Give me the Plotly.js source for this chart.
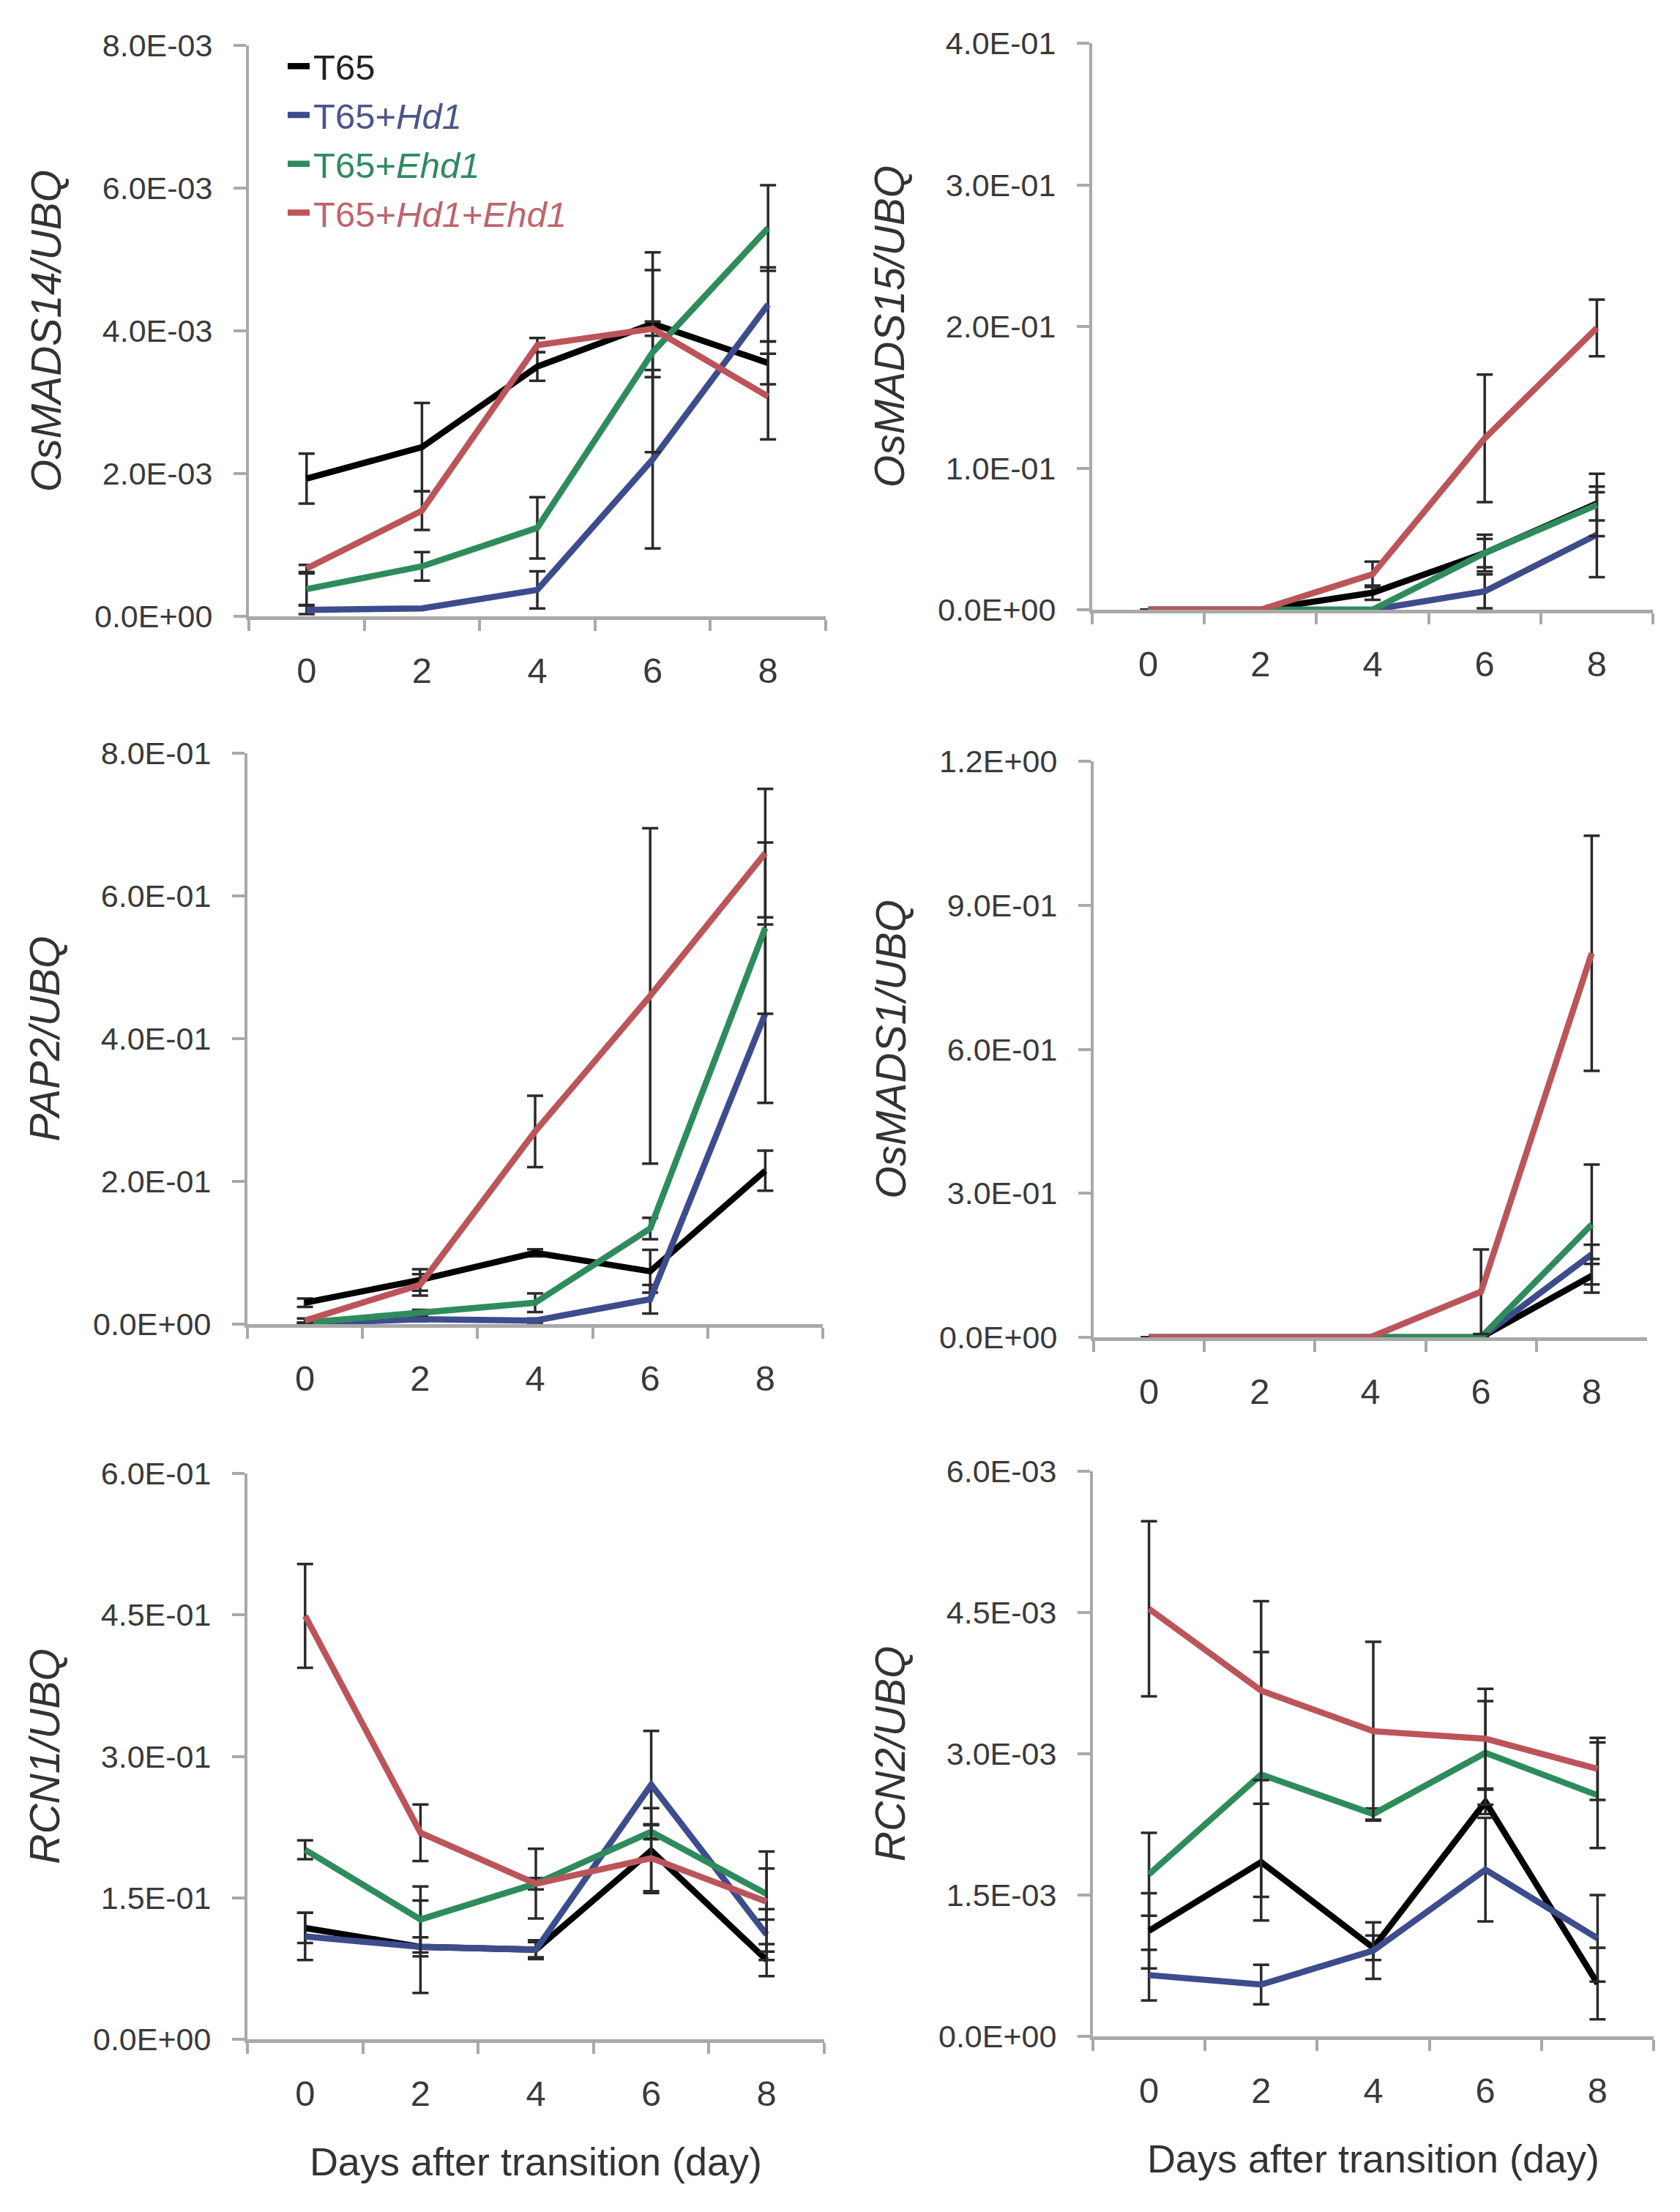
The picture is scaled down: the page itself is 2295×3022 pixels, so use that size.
<!DOCTYPE html>
<html>
<head>
<meta charset="utf-8">
<script src="https://cdn.plot.ly/plotly-3.0.1.min.js"></script>
<style>
  html, body { margin: 0; padding: 0; background: #ffffff; }
  #chart { width: 2295px; height: 3022px; }
</style>
</head>
<body>
<div id="chart"></div>
<script>
// ---------------- data ----------------
const days = ['0', '2', '4', '6', '8'];

const seriesNames = ['T65', 'T65+<i>Hd1</i>', 'T65+<i>Ehd1</i>', 'T65+<i>Hd1</i>+<i>Ehd1</i>'];

// OsMADS14/UBQ
const mads14_T65      = [0.00193, 0.00237, 0.00350, 0.00410, 0.00355];
const mads14_T65_err  = [0.00035, 0.00062, 0.00020, 0.00075, 0.00030];
const mads14_Hd1      = [0.00009, 0.00011, 0.00037, 0.00220, 0.00437];
const mads14_Hd1_err  = [0.00006, 0, 0.00026, 0.00125, 0.00052];
const mads14_Ehd1     = [0.00038, 0.00070, 0.00124, 0.00370, 0.00544];
const mads14_Ehd1_err = [0.00022, 0.00020, 0.00043, 0.00140, 0.00060];
const mads14_HE       = [0.00067, 0.00148, 0.00380, 0.00403, 0.00308];
const mads14_HE_err   = [0.00005, 0.00027, 0.00010, 0.00010, 0.00060];
const mads14Ticks     = [0, 0.002, 0.004, 0.006, 0.008];

// OsMADS15/UBQ
const mads15_T65      = [0, 0, 0.012, 0.040, 0.075];
const mads15_T65_err  = [0, 0, 0.005, 0.010, 0.012];
const mads15_Hd1      = [0, 0, 0, 0.013, 0.053];
const mads15_Hd1_err  = [0, 0, 0, 0.012, 0.030];
const mads15_Ehd1     = [0, 0, 0, 0.040, 0.074];
const mads15_Ehd1_err = [0, 0, 0, 0.013, 0.022];
const mads15_HE       = [0, 0, 0.025, 0.121, 0.199];
const mads15_HE_err   = [0, 0, 0.009, 0.045, 0.020];
const mads15Ticks     = [0, 0.1, 0.2, 0.3, 0.4];

// PAP2/UBQ
const pap2_T65      = [0.030, 0.062, 0.100, 0.074, 0.215];
const pap2_T65_err  = [0.006, 0.015, 0.005, 0.030, 0.028];
const pap2_Hd1      = [0.001, 0.007, 0.005, 0.035, 0.435];
const pap2_Hd1_err  = [0, 0.003, 0.003, 0.020, 0.125];
const pap2_Ehd1     = [0.002, 0.016, 0.030, 0.134, 0.555];
const pap2_Ehd1_err = [0, 0.004, 0.013, 0.015, 0.120];
const pap2_HE       = [0.005, 0.055, 0.270, 0.460, 0.660];
const pap2_HE_err   = [0.003, 0.015, 0.050, 0.235, 0.090];
const pap2Ticks     = [0, 0.2, 0.4, 0.6, 0.8];

// OsMADS1/UBQ
const mads1_T65      = [0, 0, 0, 0, 0.128];
const mads1_T65_err  = [0, 0, 0, 0, 0.035];
const mads1_Hd1      = [0, 0, 0, 0, 0.173];
const mads1_Hd1_err  = [0, 0, 0, 0, 0.020];
const mads1_Ehd1     = [0, 0, 0, 0, 0.235];
const mads1_Ehd1_err = [0, 0, 0, 0, 0.125];
const mads1_HE       = [0, 0, 0, 0.095, 0.800];
const mads1_HE_err   = [0, 0, 0, 0.088, 0.245];
const mads1Ticks     = [0, 0.3, 0.6, 0.9, 1.2];

// RCN1/UBQ
const rcn1_T65      = [0.118, 0.098, 0.095, 0.200, 0.084];
const rcn1_T65_err  = [0.016, 0.049, 0.010, 0.045, 0.017];
const rcn1_Hd1      = [0.109, 0.098, 0.095, 0.270, 0.111];
const rcn1_Hd1_err  = [0.025, 0.010, 0.008, 0.057, 0.027];
const rcn1_Ehd1     = [0.201, 0.127, 0.165, 0.220, 0.154];
const rcn1_Ehd1_err = [0.010, 0.035, 0.006, 0.008, 0.027];
const rcn1_HE       = [0.449, 0.219, 0.165, 0.192, 0.146];
const rcn1_HE_err   = [0.055, 0.030, 0.037, 0.035, 0.053];
const rcn1Ticks     = [0, 0.15, 0.3, 0.45, 0.6];

// RCN2/UBQ
const rcn2_T65      = [0.00112, 0.00185, 0.00094, 0.00249, 0.00056];
const rcn2_T65_err  = [0.00040, 0.00062, 0.00013, 0.00013, 0.00038];
const rcn2_Hd1      = [0.00065, 0.00055, 0.00091, 0.00177, 0.00104];
const rcn2_Hd1_err  = [0.00027, 0.00021, 0.00030, 0.00055, 0.00046];
const rcn2_Ehd1     = [0.00172, 0.00278, 0.00236, 0.00301, 0.00256];
const rcn2_Ehd1_err = [0.00044, 0.00130, 0.00006, 0.00055, 0.00056];
const rcn2_HE       = [0.00454, 0.00367, 0.00324, 0.00316, 0.00284];
const rcn2_HE_err   = [0.00093, 0.00095, 0.00095, 0.00053, 0.00033];
const rcn2Ticks     = [0, 0.0015, 0.003, 0.0045, 0.006];

const panels = [
  { title: 'OsMADS14/UBQ', vals: [mads14_T65, mads14_Hd1, mads14_Ehd1, mads14_HE], errs: [mads14_T65_err, mads14_Hd1_err, mads14_Ehd1_err, mads14_HE_err], ticks: mads14Ticks },
  { title: 'OsMADS15/UBQ', vals: [mads15_T65, mads15_Hd1, mads15_Ehd1, mads15_HE], errs: [mads15_T65_err, mads15_Hd1_err, mads15_Ehd1_err, mads15_HE_err], ticks: mads15Ticks },
  { title: 'PAP2/UBQ', vals: [pap2_T65, pap2_Hd1, pap2_Ehd1, pap2_HE], errs: [pap2_T65_err, pap2_Hd1_err, pap2_Ehd1_err, pap2_HE_err], ticks: pap2Ticks },
  { title: 'OsMADS1/UBQ', vals: [mads1_T65, mads1_Hd1, mads1_Ehd1, mads1_HE], errs: [mads1_T65_err, mads1_Hd1_err, mads1_Ehd1_err, mads1_HE_err], ticks: mads1Ticks },
  { title: 'RCN1/UBQ', vals: [rcn1_T65, rcn1_Hd1, rcn1_Ehd1, rcn1_HE], errs: [rcn1_T65_err, rcn1_Hd1_err, rcn1_Ehd1_err, rcn1_HE_err], ticks: rcn1Ticks },
  { title: 'RCN2/UBQ', vals: [rcn2_T65, rcn2_Hd1, rcn2_Ehd1, rcn2_HE], errs: [rcn2_T65_err, rcn2_Hd1_err, rcn2_Ehd1_err, rcn2_HE_err], ticks: rcn2Ticks }
];

// ---------------- style ----------------
const W = 2295, H = 3022;
const colors = ['#000000', '#3d4c8c', '#2e8c5c', '#bb555a'];
const legendColors = ['#222222', '#4b5688', '#2f8a60', '#c0646c'];
const axisColor = '#a9a9a9';
const FONT = 'Liberation Sans, Arial, Helvetica, sans-serif';

// plot boxes in pixels: [left, right, top, bottom]
const boxes = [
  [340, 1128, 62, 842],
  [1492, 2258, 59, 833],
  [338, 1124, 1029, 1809],
  [1494, 2250, 1040, 1827],
  [338, 1126, 2013, 2786],
  [1493, 2259, 2010, 2782]
];

function fmtE(v) {
  return v.toExponential(1).toUpperCase().replace(/E([+-])(\d)$/, 'E$10$2');
}

const traces = [];
const layout = {
  width: W, height: H,
  margin: { l: 0, r: 0, t: 0, b: 0 },
  paper_bgcolor: '#ffffff',
  plot_bgcolor: 'rgba(0,0,0,0)',
  font: { family: FONT, color: '#333333' },
  showlegend: true,
  legend: {
    x: 388 / W, y: 1 - 52 / H, xanchor: 'left', yanchor: 'top',
    bgcolor: 'rgba(0,0,0,0)', borderwidth: 0,
    font: { family: FONT, size: 49, color: '#333333' },
    tracegroupgap: 0, itemwidth: 30
  }
};

panels.forEach((p, i) => {
  const n = i + 1;
  const xa = 'x' + (n === 1 ? '' : n);
  const ya = 'y' + (n === 1 ? '' : n);
  const [l, r, t, b] = boxes[i];
  p.vals.forEach((vals, s) => {
    traces.push({
      type: 'scatter', mode: 'lines',
      x: days, y: vals,
      xaxis: xa, yaxis: ya,
      name: '<span style="color:' + legendColors[s] + '">' + seriesNames[s] + '</span>',
      legendgroup: 'g' + s,
      showlegend: i === 0,
      cliponaxis: false,
      line: { color: colors[s], width: 8.5 },
      error_y: {
        type: 'data', visible: true,
        array: p.errs[s].map(e => (e > 0 ? e : null)),
        color: '#2a2a2a', thickness: 3.5, width: 11
      },
      hoverinfo: 'skip'
    });
  });
  const ymax = p.ticks[p.ticks.length - 1];
  layout['xaxis' + (n === 1 ? '' : n)] = {
    domain: [l / W, r / W],
    anchor: ya,
    type: 'category',
    range: [-0.5, 4.5],
    tickson: 'boundaries',
    ticks: 'outside', ticklen: 15, tickwidth: 4, tickcolor: axisColor,
    showline: true, linecolor: axisColor, linewidth: 5,
    showgrid: false, zeroline: false,
    layer: 'below traces',
    tickfont: { family: FONT, size: 49, color: '#3a3a3a' },
    ticklabelstandoff: 27,
    fixedrange: true,
    title: (i >= 4) ? { text: 'Days after transition (day)', font: { family: FONT, size: 54, color: '#333333' }, standoff: 50 } : { text: '' }
  };
  layout['yaxis' + (n === 1 ? '' : n)] = {
    domain: [1 - b / H, 1 - t / H],
    anchor: xa,
    range: [0, ymax],
    tickmode: 'array',
    tickvals: p.ticks,
    ticktext: p.ticks.map(fmtE),
    ticks: 'outside', ticklen: 17, tickwidth: 4, tickcolor: axisColor,
    showline: true, linecolor: axisColor, linewidth: 4,
    showgrid: false, zeroline: false,
    layer: 'below traces',
    tickfont: { family: FONT, size: 43, color: '#3a3a3a' },
    ticklabelstandoff: 20,
    fixedrange: true,
    title: { text: '<i>' + p.title + '</i>', font: { family: FONT, size: 57, color: '#333333' }, standoff: 28 }
  };
});

Plotly.newPlot('chart', traces, layout, { staticPlot: true, displayModeBar: false });
</script>
</body>
</html>
